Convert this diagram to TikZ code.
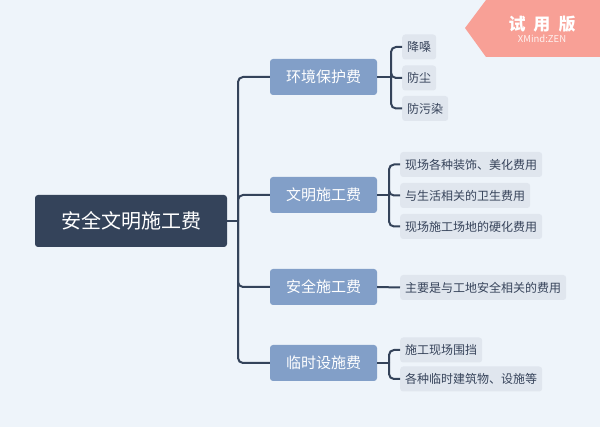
\documentclass[tikz,border=0pt]{standalone}
\usepackage{fontspec}
\setmainfont{Noto Sans CJK SC}
\usetikzlibrary{positioning}
\definecolor{bgblue}{HTML}{EEF4FA}
\definecolor{rootnavy}{HTML}{34435A}
\definecolor{branchblue}{HTML}{829FC8}
\definecolor{leafgrey}{HTML}{E0E6EE}
\definecolor{linenavy}{HTML}{34435A}
\definecolor{leaftext}{HTML}{36435A}
\definecolor{trialpink}{HTML}{F8A096}
\tikzset{
  rootbox/.style={fill=rootnavy, text=white, rounded corners=3pt, minimum width=192pt, minimum height=52pt, font=\fontsize{20}{24}\selectfont},
  branchbox/.style={fill=branchblue, text=white, rounded corners=3pt, minimum width=107pt, minimum height=36pt, font=\fontsize{15}{18}\selectfont},
  leafbox/.style={fill=leafgrey, text=leaftext, rounded corners=3pt, minimum height=25pt, inner xsep=5pt, inner ysep=0pt, anchor=west, font=\fontsize{12}{14}\selectfont},
  link/.style={draw=linenavy, line width=2pt, rounded corners=5pt},
}

\begin{document}
\begin{tikzpicture}[x=1pt, y=-1pt]
  % Background
  \fill[bgblue] (0,0) rectangle (600,427);
  \useasboundingbox (0,0) rectangle (600,427);

  % Trial badge
  \fill[trialpink] (465,28) -- (486,0) -- (600,0) -- (600,57) -- (486,57) -- cycle;
  \node[text=white, font=\fontsize{17}{20}\selectfont\bfseries] (trial) at (542,24) {试\hspace{8pt}用\hspace{8pt}版};
  \node[text=white!85!trialpink, font=\fontsize{9.5}{11}\selectfont, below=-4pt of trial] (trialsub) {XMind:ZEN};

  % Root and branches
  \node[rootbox] (root) at (131,221) {安全文明施工费};
  \node[branchbox] (env) at (323.5,77) {环境保护费};
  \node[branchbox] (civ) at (323.5,195) {文明施工费};
  \node[branchbox] (saf) at (323.5,287) {安全施工费};
  \node[branchbox] (tmp) at (323.5,363) {临时设施费};

  % Leaves
  \node[leafbox] (env1) at (402,47) {降嗓};
  \node[leafbox] (env2) at (402,78) {防尘};
  \node[leafbox] (env3) at (402,108.5) {防污染};
  \node[leafbox] (civ1) at (400,164.5) {现场各种装饰、美化费用};
  \node[leafbox] (civ2) at (400,195.5) {与生活相关的卫生费用};
  \node[leafbox] (civ3) at (400,226.5) {现场施工场地的硬化费用};
  \node[leafbox] (saf1) at (400,287.5) {主要是与工地安全相关的费用};
  \node[leafbox] (tmp1) at (400,350) {施工现场围挡};
  \node[leafbox] (tmp2) at (400,379) {各种临时建筑物、设施等};

  % Connectors
  \coordinate (hub) at (238,221);
  \draw[link] (root.east) -- (hub);
  \foreach \b in {env,civ,saf,tmp}
    \draw[link] (hub) |- (\b.west);

  \coordinate (envhub) at (391,77);
  \draw[link] (env.east) -- (envhub);
  \foreach \l in {env1,env2,env3}
    \draw[link] (envhub) |- (\l.west);

  \coordinate (civhub) at (389,195);
  \draw[link] (civ.east) -- (civhub);
  \foreach \l in {civ1,civ2,civ3}
    \draw[link] (civhub) |- (\l.west);

  \draw[link] (saf.east) -- (saf1.west);

  \coordinate (tmphub) at (389,363);
  \draw[link] (tmp.east) -- (tmphub);
  \foreach \l in {tmp1,tmp2}
    \draw[link] (tmphub) |- (\l.west);
\end{tikzpicture}
\end{document}
